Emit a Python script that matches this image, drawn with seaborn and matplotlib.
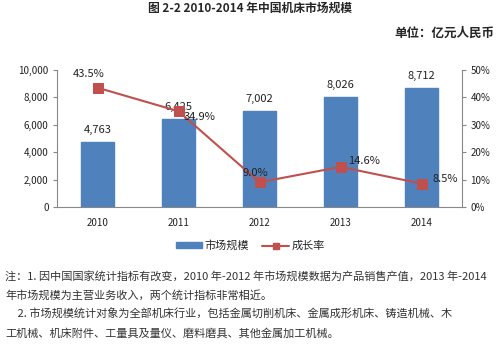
import matplotlib
matplotlib.use("Agg")
import matplotlib.pyplot as plt
import seaborn as sns
import pandas as pd
import numpy as np
from matplotlib.lines import Line2D
from matplotlib.patches import Patch

sns.set_style("white")
plt.rcParams['font.family'] = ['Noto Sans CJK SC', 'DejaVu Sans']

years = ["2010", "2011", "2012", "2013", "2014"]
market = [4763, 6425, 7002, 8026, 8712]
growth = [43.5, 34.9, 9.0, 14.6, 8.5]
market_labels = ["4,763", "6,425", "7,002", "8,026", "8,712"]
growth_labels = ["43.5%", "34.9%", "9.0%", "14.6%", "8.5%"]
y_ticks = [0, 2000, 4000, 6000, 8000, 10000]
y2_ticks = [0, 10, 20, 30, 40, 50]

title = "图 2-2 2010-2014 年中国机床市场规模"
unit = "单位：亿元人民币"
legend_bar = "市场规模"
legend_line = "成长率"
notes = [
    "注：1. 因中国国家统计指标有改变，2010 年-2012 年市场规模数据为产品销售产值，2013 年-2014",
    "年市场规模为主营业务收入，两个统计指标非常相近。",
    "     2. 市场规模统计对象为全部机床行业，包括金属切削机床、金属成形机床、铸造机械、木",
    "工机械、机床附件、工量具及量仪、磨料磨具、其他金属加工机械。",
]

BAR = "#4F81BD"
LINE = "#C0504D"
GRAY = "#888888"

df = pd.DataFrame({"year": years, "market": market, "growth": growth})

fig = plt.figure(figsize=(5.0, 3.46), dpi=100)
ax = fig.add_axes([0.114, 0.402, 0.81, 0.396])

sns.barplot(data=df, x="year", y="market", color=BAR, width=0.4, ax=ax,
            saturation=1, edgecolor=BAR)
ax.set_ylim(0, 10000)
ax.set_xlim(-0.5, 4.5)
ax.set_yticks(y_ticks)
ax.set_yticklabels([f"{v:,}" for v in y_ticks], fontsize=7, color="#222222")
ax.set_xlabel("")
ax.set_ylabel("")
ax.tick_params(axis="x", which="major", length=0, pad=8, labelsize=7, labelcolor="#222222")
ax.set_xticks(np.arange(-0.5, 5, 1), minor=True)
ax.tick_params(axis="x", which="minor", length=4, color=GRAY, direction="out")
ax.tick_params(axis="y", length=3, color=GRAY, direction="out", pad=3)
for s in ["top", "right"]:
    ax.spines[s].set_visible(False)
for s in ["left", "bottom"]:
    ax.spines[s].set_color(GRAY)
    ax.spines[s].set_linewidth(0.8)

for i, (v, lab) in enumerate(zip(market, market_labels)):
    ax.annotate(lab, (i, v), xytext=(0, 5), textcoords="offset points",
                ha="center", va="bottom", fontsize=8, color="#222222")

ax2 = ax.twinx()
sns.lineplot(x=np.arange(5), y=growth, ax=ax2, color=LINE, marker="s",
             markersize=7, markeredgecolor=LINE, linewidth=1.5)
ax2.set_ylim(0, 50)
ax2.set_yticks(y2_ticks)
ax2.set_yticklabels([f"{v}%" for v in y2_ticks], fontsize=7, color="#222222")
ax2.tick_params(axis="y", length=3, color=GRAY, direction="out", pad=3)
for s in ["top", "left", "bottom"]:
    ax2.spines[s].set_visible(False)
ax2.spines["right"].set_color(GRAY)
ax2.spines["right"].set_linewidth(0.8)
ax2.set_ylabel("")

offsets = [(-6, 10), (15, -4), (-3, 7), (17, 4), (17, 3)]
for i, (v, lab, off) in enumerate(zip(growth, growth_labels, offsets)):
    ax2.annotate(lab, (i, v), xytext=off, textcoords="offset points",
                 ha="center", va="center", fontsize=8, color="#222222")

fig.text(0.5, 0.976, title, ha="center", va="center", fontsize=8.5, fontweight="bold")
fig.text(0.988, 0.905, unit, ha="right", va="center", fontsize=9, fontweight="bold")

handles = [Patch(facecolor=BAR, edgecolor=BAR),
           Line2D([0], [0], color=LINE, marker="s", markersize=5, linewidth=1.5)]
fig.legend(handles, [legend_bar, legend_line], loc="center", bbox_to_anchor=(0.5, 0.29),
           ncol=2, frameon=False, fontsize=8, handlelength=2.4, handleheight=0.4,
           columnspacing=1.2, handletextpad=0.2)

ys = [0.199, 0.145, 0.091, 0.037]
for t, y in zip(notes, ys):
    fig.text(0.01, y, t, ha="left", va="center", fontsize=8, color="#333333")

fig.savefig("out.png", dpi=100, facecolor="white")
